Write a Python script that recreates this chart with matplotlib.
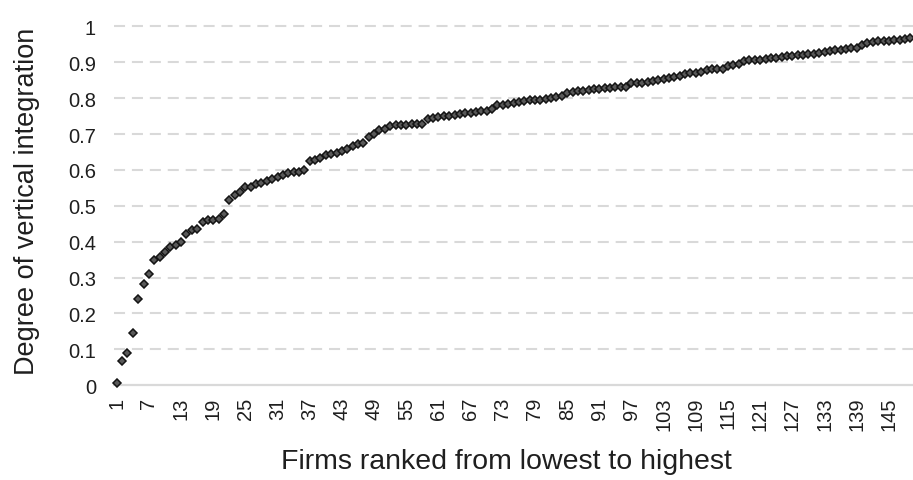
"""Firms ranked by degree of vertical integration (scatter)."""

import matplotlib

matplotlib.use("Agg")

import matplotlib.pyplot as plt
import numpy as np

plt.rcParams["font.family"] = ["Liberation Sans", "DejaVu Sans"]

# firm rank 1..149 and its degree of vertical integration
integration = [
    0.007, 0.069, 0.089, 0.147, 0.241, 0.282, 0.311, 0.348, 0.356, 0.370,
    0.385, 0.390, 0.400, 0.422, 0.432, 0.435, 0.455, 0.460, 0.460, 0.462,
    0.476, 0.515, 0.530, 0.539, 0.551, 0.553, 0.560, 0.564, 0.568, 0.574,
    0.581, 0.586, 0.590, 0.593, 0.594, 0.601, 0.625, 0.627, 0.632, 0.641,
    0.644, 0.647, 0.653, 0.657, 0.667, 0.671, 0.674, 0.692, 0.701, 0.710,
    0.713, 0.723, 0.725, 0.726, 0.726, 0.727, 0.727, 0.729, 0.743, 0.745,
    0.746, 0.749, 0.750, 0.753, 0.755, 0.758, 0.759, 0.761, 0.764, 0.765,
    0.769, 0.780, 0.782, 0.784, 0.787, 0.789, 0.791, 0.794, 0.795, 0.796,
    0.798, 0.800, 0.803, 0.806, 0.815, 0.817, 0.819, 0.820, 0.822, 0.824,
    0.826, 0.828, 0.829, 0.830, 0.830, 0.831, 0.841, 0.842, 0.843, 0.845,
    0.848, 0.850, 0.853, 0.857, 0.860, 0.862, 0.866, 0.869, 0.871, 0.873,
    0.878, 0.880, 0.880, 0.882, 0.890, 0.893, 0.895, 0.903, 0.906, 0.906,
    0.907, 0.908, 0.911, 0.912, 0.914, 0.916, 0.918, 0.920, 0.921, 0.922,
    0.924, 0.926, 0.928, 0.931, 0.933, 0.934, 0.938, 0.939, 0.940, 0.949,
    0.953, 0.956, 0.958, 0.959, 0.960, 0.961, 0.962, 0.964, 0.967,
]
ranks = list(range(1, len(integration) + 1))
x_ticks = list(range(1, len(integration) + 1, 6))
y_ticks = [0, 0.1, 0.2, 0.3, 0.4, 0.5, 0.6, 0.7, 0.8, 0.9, 1]
y_labels = ["0", "0.1", "0.2", "0.3", "0.4", "0.5", "0.6", "0.7", "0.8", "0.9", "1"]

TEXT = "#1f1f1f"
GRID = "#d9d9d9"

fig = plt.figure(figsize=(9.13, 4.81), dpi=100)
ax = fig.add_axes([0.1249, 0.1969, 0.8751, 0.7463])

ax.set_xlim(0.5, len(integration) + 0.5)
ax.set_ylim(0, 1)

for v in y_ticks[1:]:
    ax.axhline(v, color=GRID, linewidth=1.5, dashes=(5.3, 3.3), zorder=1, clip_on=False)

ax.plot(
    ranks,
    integration,
    linestyle="none",
    marker="D",
    markersize=3.9,
    markerfacecolor="#595959",
    markeredgecolor="#141414",
    markeredgewidth=1.1,
    zorder=3,
    clip_on=False,
)

for side in ("top", "right", "left"):
    ax.spines[side].set_visible(False)
ax.spines["bottom"].set_color(GRID)
ax.spines["bottom"].set_linewidth(1.6)

ax.set_xticks(x_ticks)
ax.set_xticklabels([str(t) for t in x_ticks], rotation=90)
ax.set_yticks(y_ticks)
ax.set_yticklabels(y_labels)
ax.tick_params(axis="both", length=0, labelsize=14.5, colors=TEXT)
ax.tick_params(axis="x", pad=8)
ax.tick_params(axis="y", pad=13)

fig.text(0.555, 0.04, "Firms ranked from lowest to highest", ha="center", va="center",
         fontsize=20.5, color=TEXT)
fig.text(0.03, 0.582, "Degree of vertical integration", ha="center", va="center",
         rotation=90, fontsize=19.5, color=TEXT)

fig.savefig("out.png", dpi=100, facecolor="white")
